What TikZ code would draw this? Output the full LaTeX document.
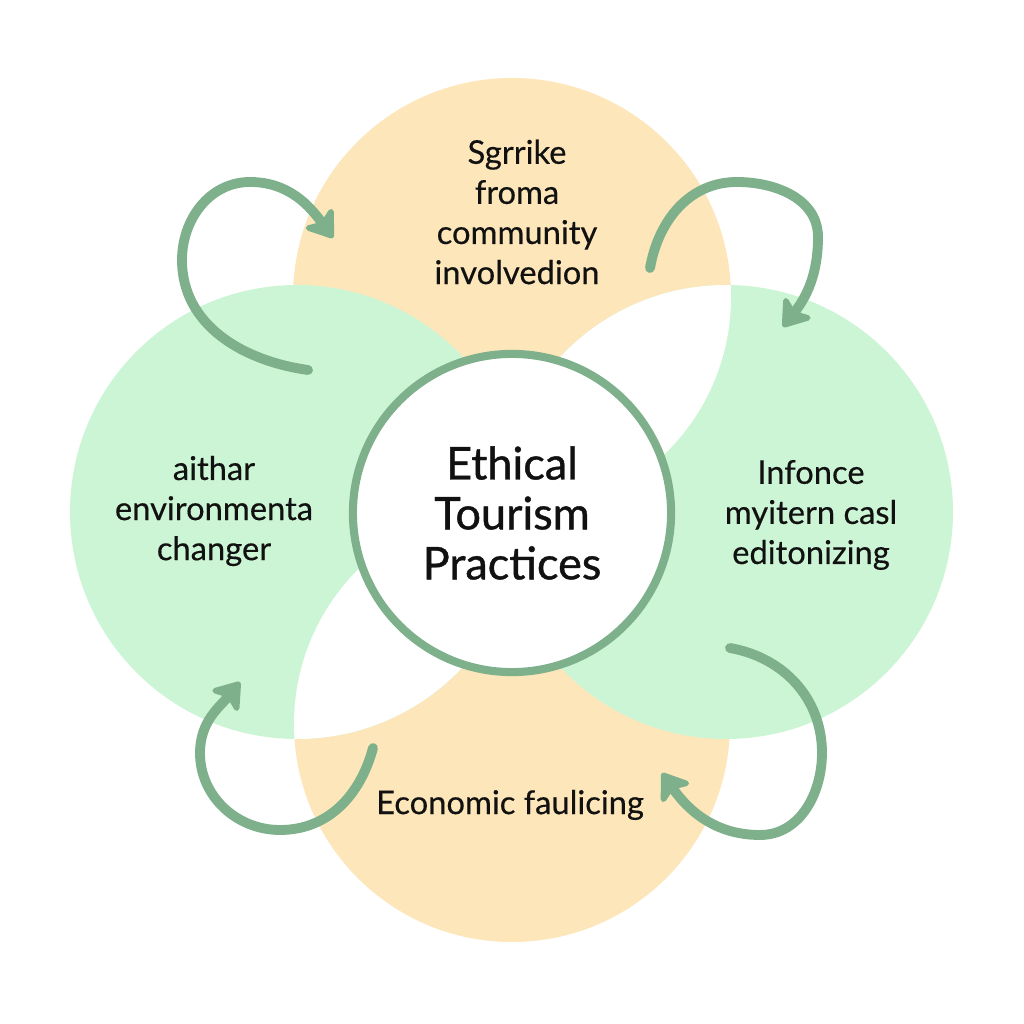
\documentclass[tikz,border=0pt]{standalone}
\usepackage{fontspec}
\setmainfont{Lato}
\newfontfamily\hubfont[FakeBold=0.9]{Lato}
\newfontfamily\lblfont[FakeBold=0.35]{Lato}
\usetikzlibrary{arrows.meta}

\definecolor{peach}{HTML}{FDE6B9}
\definecolor{mint}{HTML}{CCF5D6}
\definecolor{sage}{HTML}{7DB08B}
\definecolor{ink}{HTML}{111111}

\begin{document}
\begin{tikzpicture}[x=0.01cm, y=0.01cm, >={Stealth[length=3mm, width=4.2mm, inset=0.8mm, round]},
    flow/.style={->, draw=sage, line width=2.8pt, line cap=round},
    lbl/.style={align=center, inner sep=0pt, text=ink, font=\lblfont\fontsize{9.3}{11.4}\selectfont},
    hub/.style={circle, draw=sage, fill=white, line width=2.3pt, minimum size=3.18cm, inner sep=0pt,
        align=center, text=ink, font=\hubfont\fontsize{12.8}{14.2}\selectfont}]

    \useasboundingbox (0,0) rectangle (1024,1024);
    \fill[white] (0,0) rectangle (1024,1024);

    % === 四个圆 ===
    \fill[peach] (512,727) circle (219);
    \fill[peach] (512,300) circle (218);
    \fill[mint] (297,512) circle (227);
    \fill[mint] (726,512) circle (227);

    % === 交叠处留白 ===
    \begin{scope}
        \clip (512,727) circle (219);
        \fill[white] (726,512) circle (227);
    \end{scope}
    \begin{scope}
        \clip (512,300) circle (218);
        \fill[white] (297,512) circle (227);
    \end{scope}

    % === 箭头端点 ===
    \coordinate (tl s) at (308,654);
    \coordinate (tl l) at (182,764);
    \coordinate (tl t) at (250,842);
    \coordinate (tl e) at (333,786);

    \coordinate (tr s) at (650,756);
    \coordinate (tr t) at (737,842);
    \coordinate (tr r) at (818,787);
    \coordinate (tr e) at (783,697);

    \coordinate (bl s) at (373,276);
    \coordinate (bl b) at (280,194);
    \coordinate (bl l) at (200,271);
    \coordinate (bl e) at (240,342);

    \coordinate (br s) at (730,376);
    \coordinate (br r) at (822,271);
    \coordinate (br b) at (760,189);
    \coordinate (br e) at (662,251);

    % === 弯箭头 ===
    \draw[flow] (tl s) to[out=172,in=-90] (tl l) to[out=90,in=180] (tl t) to[out=0,in=126] (tl e);
    \draw[flow] (tr s) to[out=80,in=180] (tr t) to[out=0,in=90] (tr r) to[out=-90,in=52] (tr e);
    \draw[flow] (bl s) to[out=-105,in=0] (bl b) to[out=180,in=-90] (bl l) to[out=90,in=231] (bl e);
    \draw[flow] (br s) to[out=-10,in=90] (br r) to[out=-90,in=0] (br b) to[out=180,in=-55] (br e);

    % === 中心圆 ===
    \node[hub] (hub) at (512,511) {Ethical\\Tourism\\Practices};

    % === 标注 ===
    \node[lbl] (commu) at (517,812) {Sgrrike\\froma\\community\\involvedion};
    \node[lbl] (envir) at (214,513) {aithar\\environmenta\\changer};
    \node[lbl] (infl) at (811,509) {Infonce\\myitern casl\\editonizing};
    \node[lbl] (econ) at (510,219) {Economic faulicing};

\end{tikzpicture}
\end{document}
